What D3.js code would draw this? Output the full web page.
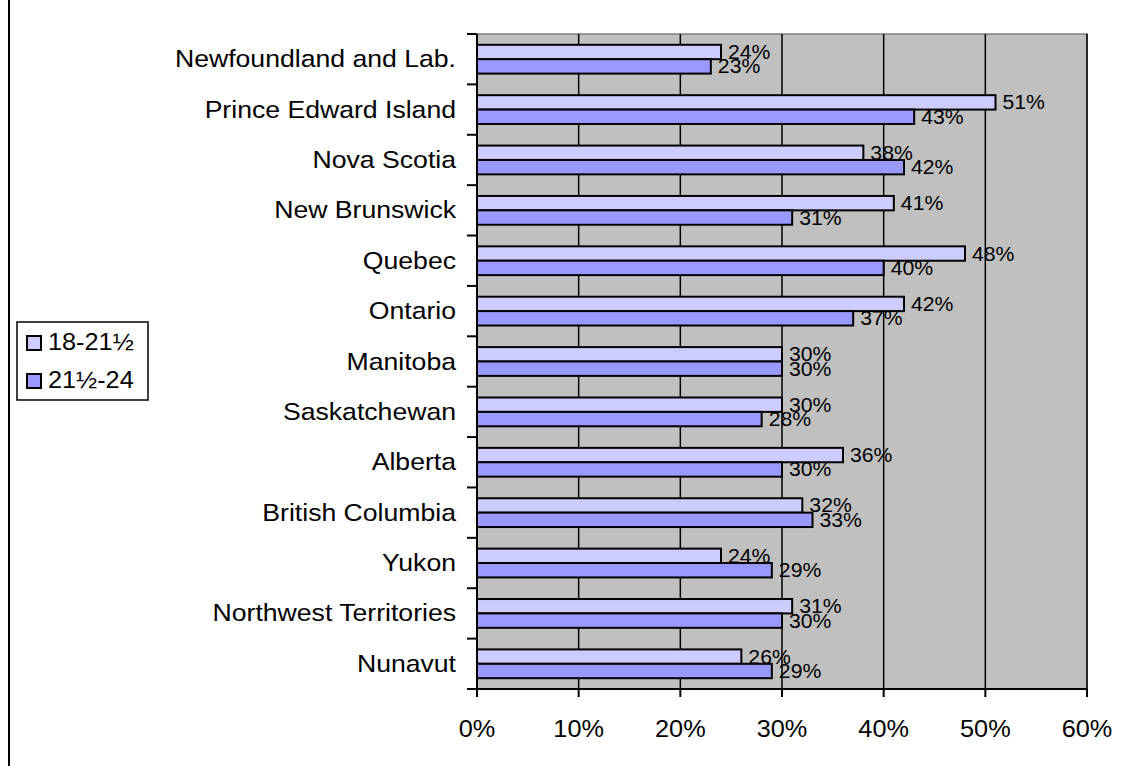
<!DOCTYPE html>
<html>
<head>
<meta charset="utf-8">
<script src="https://cdn.jsdelivr.net/npm/d3@7"></script>
<style>
  body { margin: 0; background: #fff; }
  text { font-family: "Liberation Sans", Arial, sans-serif; fill: #000; }
</style>
</head>
<body>
<div id="chart"></div>
<script>
// provinces / territories, top to bottom
const provinces = ["Newfoundland and Lab.", "Prince Edward Island", "Nova Scotia", "New Brunswick",
    "Quebec", "Ontario", "Manitoba", "Saskatchewan", "Alberta", "British Columbia",
    "Yukon", "Northwest Territories", "Nunavut"];
const seriesNames = ["18-21\u00BD", "21\u00BD-24"];
const ages18to21 = [24, 51, 38, 41, 48, 42, 30, 30, 36, 32, 24, 31, 26];
const ages21to24 = [23, 43, 42, 31, 40, 37, 30, 28, 30, 33, 29, 30, 29];
const xTicks = [0, 10, 20, 30, 40, 50, 60];

const colors = ["#CCCCFF", "#9999FF"];
const stretch = 1.1; // text in the picture is a little wide

const width = 1128, height = 766;
const svg = d3.select("#chart").append("svg")
    .attr("width", width).attr("height", height);

// outer chart border (only the left edge is visible)
svg.append("line").attr("x1", 9).attr("x2", 9).attr("y1", 0).attr("y2", height)
    .attr("stroke", "#000").attr("stroke-width", 2);

const plot = { left: 477, right: 1087, top: 34, bottom: 689 };

let x = d3.scaleLinear().domain([0, 60]).range([plot.left, plot.right]);
let y = d3.scaleBand().domain(provinces).range([plot.top, plot.bottom]);
let barH = y.bandwidth() / 3.5;

// plot area
svg.append("rect")
    .attr("x", plot.left).attr("y", plot.top)
    .attr("width", plot.right - plot.left).attr("height", plot.bottom - plot.top)
    .attr("fill", "#C0C0C0").attr("stroke", "#808080").attr("stroke-width", 1.5);

// gridlines
svg.append("g").selectAll("line").data(xTicks.slice(1)).join("line")
    .attr("x1", d => x(d)).attr("x2", d => x(d))
    .attr("y1", plot.top).attr("y2", plot.bottom)
    .attr("stroke", "#000").attr("stroke-width", 1.5);

// bars
let series = [ages18to21, ages21to24];
let barData = [];
provinces.forEach((p, i) => {
    series.forEach((s, j) => {
        barData.push({ prov: p, k: j, v: s[i] });
    });
});

let barY = d => y(d.prov) + 0.75 * barH + d.k * barH;

svg.append("g").selectAll("rect").data(barData).join("rect")
    .attr("x", x(0))
    .attr("y", d => barY(d))
    .attr("width", d => x(d.v) - x(0))
    .attr("height", barH)
    .attr("fill", d => colors[d.k])
    .attr("stroke", "#000").attr("stroke-width", 2);

// axes lines
svg.append("line").attr("x1", plot.left).attr("x2", plot.left)
    .attr("y1", plot.top).attr("y2", plot.bottom)
    .attr("stroke", "#000").attr("stroke-width", 2);
svg.append("line").attr("x1", plot.left).attr("x2", plot.right)
    .attr("y1", plot.bottom).attr("y2", plot.bottom)
    .attr("stroke", "#000").attr("stroke-width", 2);

// y tick marks at band edges
let yEdges = provinces.map(p => y(p)).concat([plot.bottom]);
svg.append("g").selectAll("line").data(yEdges).join("line")
    .attr("x1", plot.left - 10).attr("x2", plot.left)
    .attr("y1", d => d).attr("y2", d => d)
    .attr("stroke", "#000").attr("stroke-width", 2);

// x tick marks
svg.append("g").selectAll("line").data(xTicks).join("line")
    .attr("x1", d => x(d)).attr("x2", d => x(d))
    .attr("y1", plot.bottom).attr("y2", plot.bottom + 8)
    .attr("stroke", "#000").attr("stroke-width", 2);

// helper for horizontally stretched text
function stretchedText(g, data, px, py, size, anchor) {
    return g.selectAll("text").data(data).join("text")
        .attr("transform", (d, i) => `translate(${px(d, i)},${py(d, i)}) scale(${stretch},1)`)
        .attr("text-anchor", anchor)
        .style("font-size", size + "px")
        .text(d => d.label !== undefined ? d.label : d);
}

// category labels
stretchedText(svg.append("g"), provinces,
    d => 456, d => y(d) + y.bandwidth() / 2 + 8, 24.2, "end");

// x tick labels
stretchedText(svg.append("g"), xTicks.map(t => ({ t: t, label: t + "%" })),
    d => x(d.t), d => 737, 23, "middle");

// value labels
stretchedText(svg.append("g"), barData.map(d => Object.assign({ label: d.v + "%" }, d)),
    d => x(d.v) + 7, d => barY(d) + barH / 2 + 7, 19.3, "start");

// legend
let legend = svg.append("g");
legend.append("rect").attr("x", 17).attr("y", 322).attr("width", 131).attr("height", 78)
    .attr("fill", "#fff").attr("stroke", "#000").attr("stroke-width", 1.5);
legend.selectAll("rect.sw").data(seriesNames).join("rect").attr("class", "sw")
    .attr("x", 27).attr("y", (d, i) => 336 + i * 38)
    .attr("width", 14).attr("height", 14)
    .attr("fill", (d, i) => colors[i]).attr("stroke", "#000").attr("stroke-width", 2);
stretchedText(legend.append("g"), seriesNames,
    d => 48, (d, i) => 350 + i * 38, 23, "start");
</script>
</body>
</html>
